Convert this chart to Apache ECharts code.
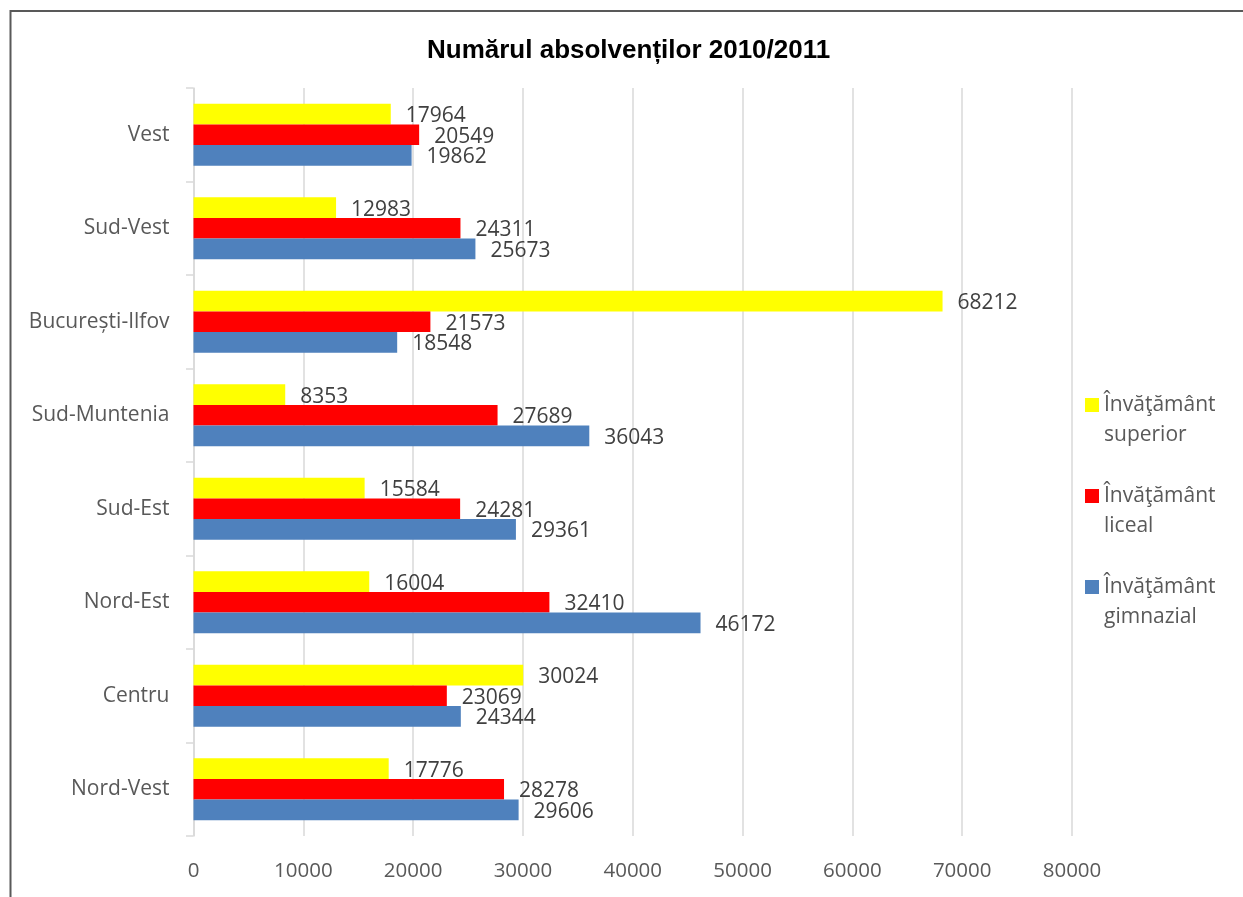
<!DOCTYPE html>
<html>
<head>
<meta charset="utf-8">
<script src="https://cdn.jsdelivr.net/npm/echarts@6/dist/echarts.min.js"></script>
<style>
html,body{margin:0;padding:0;background:#fff;}
#chart{width:1243px;height:897px;}
</style>
</head>
<body>
<div id="chart"></div>
<script>
const categories = ['Nord-Vest', 'Centru', 'Nord-Est', 'Sud-Est', 'Sud-Muntenia', 'București-Ilfov', 'Sud-Vest', 'Vest'];
const superior = [17776, 30024, 16004, 15584, 8353, 68212, 12983, 17964];
const liceal = [28278, 23069, 32410, 24281, 27689, 21573, 24311, 20549];
const gimnazial = [29606, 24344, 46172, 29361, 36043, 18548, 25673, 19862];
const seriesNames = ['Învăţământ superior', 'Învăţământ liceal', 'Învăţământ gimnazial'];
const xTicks = [0, 10000, 20000, 30000, 40000, 50000, 60000, 70000, 80000];

const chart = echarts.init(document.getElementById('chart'), null, {renderer: 'canvas'});
const labelStyle = {
  show: true, position: 'right', distance: 15, offset: [0, 2],
  color: '#404040', fontFamily: 'Open Sans', fontSize: 21
};
function mkSeries(name, data, color) {
  return {
    name: name, type: 'bar', data: data,
    barGap: '0%', barCategoryGap: '33.5%',
    itemStyle: {color: color},
    label: labelStyle
  };
}
chart.setOption({
  animation: false,
  title: {
    text: 'Numărul absolvenților 2010/2011',
    left: 427, top: 38, padding: 0,
    textStyle: {fontFamily: 'Liberation Sans', fontWeight: 'bold', fontSize: 26, color: '#000'}
  },
  graphic: [{
    type: 'rect', silent: true,
    shape: {x: 10.5, y: 11, width: 1300, height: 1000},
    style: {fill: 'none', stroke: '#595959', lineWidth: 2}
  }],
  legend: {
    orient: 'vertical', left: 1085, top: 360, padding: 0,
    itemWidth: 14, itemHeight: 14, itemGap: 1,
    icon: 'rect',
    data: seriesNames,
    formatter: function (n) { return '\n' + n.replace(' ', '\n'); },
    textStyle: {fontFamily: 'Open Sans', fontSize: 21, color: '#595959', lineHeight: 30}
  },
  grid: {left: 193.5, right: 171, top: 88, bottom: 61, containLabel: false},
  xAxis: {
    type: 'value', min: xTicks[0], max: xTicks[xTicks.length - 1], interval: xTicks[1] - xTicks[0],
    axisLine: {show: false}, axisTick: {show: false},
    splitLine: {show: true, lineStyle: {color: '#d9d9d9', width: 1.5}},
    axisLabel: {margin: 25, color: '#595959', fontFamily: 'Open Sans', fontSize: 20.5,
      formatter: function (v) { return String(v); }}
  },
  yAxis: {
    type: 'category', data: categories,
    axisLine: {show: true, lineStyle: {color: '#d9d9d9', width: 1.5}},
    axisTick: {show: true, length: 7.5, lineStyle: {color: '#d9d9d9', width: 1.5}},
    axisLabel: {margin: 24, color: '#595959', fontFamily: 'Open Sans', fontSize: 21}
  },
  series: [
    mkSeries(seriesNames[0], superior, '#FFFF00'),
    mkSeries(seriesNames[1], liceal, '#FF0000'),
    mkSeries(seriesNames[2], gimnazial, '#4F81BD')
  ]
});
</script>
</body>
</html>
